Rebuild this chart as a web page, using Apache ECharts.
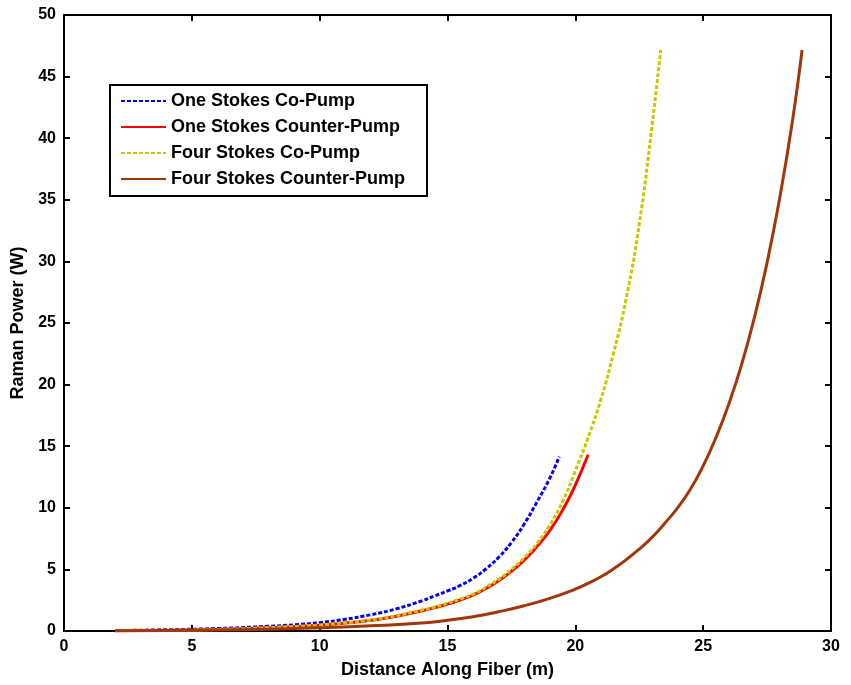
<!DOCTYPE html>
<html>
<head>
<meta charset="utf-8">
<script src="https://cdn.jsdelivr.net/npm/echarts@6/dist/echarts.min.js"></script>
<style>html,body{margin:0;padding:0;background:#fff}#c{width:851px;height:685px}</style>
</head>
<body>
<div id="c"></div>
<script>
var seriesNames = ['One Stokes Co-Pump', 'One Stokes Counter-Pump', 'Four Stokes Co-Pump', 'Four Stokes Counter-Pump'];

var oneCoX = [2, 4, 6, 8, 9, 10, 11, 12, 13, 14, 14.5, 15, 15.5, 16, 16.5, 17, 17.5, 18, 18.5, 19, 19.37];
var oneCoY = [0.03, 0.1, 0.2, 0.38, 0.5, 0.68, 0.95, 1.32, 1.8, 2.45, 2.85, 3.25, 3.7, 4.28, 5.03, 5.98, 7.18, 8.68, 10.48, 12.4, 14.15];

var oneCtX = [2, 4, 6, 8, 10, 11, 12, 13, 14, 14.5, 15, 15.5, 16, 16.5, 17, 17.5, 18, 18.5, 19, 19.5, 20, 20.5];
var oneCtY = [0.02, 0.05, 0.12, 0.26, 0.47, 0.64, 0.87, 1.2, 1.65, 1.9, 2.18, 2.52, 2.92, 3.45, 4.08, 4.85, 5.75, 6.85, 8.15, 9.8, 11.85, 14.3];

var fourCoX = [2, 4, 6, 8, 10, 11, 12, 13, 14, 14.5, 15, 15.5, 16, 16.5, 17, 17.5, 18, 18.5, 19, 19.5, 20, 20.5, 21, 21.5, 22, 22.5, 23, 23.34];
var fourCoY = [0.02, 0.05, 0.12, 0.27, 0.49, 0.67, 0.9, 1.24, 1.7, 1.95, 2.25, 2.6, 3.0, 3.55, 4.2, 5.0, 5.95, 7.1, 8.6, 10.5, 13.0, 15.7, 18.8, 22.6, 27.1, 33.0, 41.0, 47.16];

var fourCtX = [2, 4, 6, 8, 10, 12, 14, 15, 16, 17, 18, 19, 20, 20.5, 21, 21.5, 22, 22.5, 23, 23.5, 24, 24.5, 25, 25.5, 26, 26.5, 27, 27.5, 28, 28.5, 28.87];
var fourCtY = [0.015, 0.04, 0.08, 0.15, 0.26, 0.42, 0.65, 0.87, 1.16, 1.56, 2.05, 2.65, 3.4, 3.87, 4.4, 5.05, 5.8, 6.65, 7.6, 8.75, 10.0, 11.5, 13.4, 15.7, 18.4, 21.6, 25.4, 29.9, 35.2, 41.5, 47.16];

var xTicks = [0, 5, 10, 15, 20, 25, 30];
var yTicks = [0, 5, 10, 15, 20, 25, 30, 35, 40, 45, 50];

function pairs(xs, ys) { return xs.map(function (x, i) { return [x, ys[i]]; }); }

var FONT = 'Liberation Sans';
var chart = echarts.init(document.getElementById('c'));

function axisBase(show) {
  return {
    axisLine: { show: true, onZero: false, lineStyle: { color: '#000', width: 2 } },
    axisTick: { show: true, inside: true, length: 6, lineStyle: { color: '#000', width: 2 } },
    splitLine: { show: false },
    axisLabel: { show: show, color: '#000', fontFamily: FONT, fontWeight: 'bold', fontSize: 16 }
  };
}

var xMain = Object.assign(axisBase(true), {
  type: 'value', min: xTicks[0], max: xTicks[xTicks.length - 1], interval: 5, position: 'bottom',
  name: 'Distance Along Fiber (m)', nameLocation: 'middle', nameGap: 30,
  nameTextStyle: { color: '#000', fontFamily: FONT, fontWeight: 'bold', fontSize: 18 }
});
xMain.axisLabel.margin = 8;
var xTop = Object.assign(axisBase(false), {
  type: 'value', min: xTicks[0], max: xTicks[xTicks.length - 1], interval: 5, position: 'top'
});
var yMain = Object.assign(axisBase(true), {
  type: 'value', min: yTicks[0], max: yTicks[yTicks.length - 1], interval: 5, position: 'left',
  name: 'Raman Power (W)', nameLocation: 'middle', nameGap: 34, nameRotate: 90,
  nameTextStyle: { color: '#000', fontFamily: FONT, fontWeight: 'bold', fontSize: 18 }
});
yMain.axisLabel.margin = 8;
var yRight = Object.assign(axisBase(false), {
  type: 'value', min: yTicks[0], max: yTicks[yTicks.length - 1], interval: 5, position: 'right'
});

function mk(name, data, color, type, width) {
  return {
    name: name, type: 'line', data: data, smooth: 0.5,
    symbol: 'none', showSymbol: false,
    xAxisIndex: 0, yAxisIndex: 0,
    lineStyle: { color: color, width: width, type: type },
    itemStyle: { color: color },
    animation: false
  };
}

chart.setOption({
  animation: false,
  backgroundColor: '#fff',
  grid: { left: 64, right: 20, top: 15, bottom: 54, containLabel: false },
  xAxis: [xMain, xTop],
  yAxis: [yMain, yRight],
  legend: {
    orient: 'vertical', left: 110, top: 85,
    data: seriesNames,
    itemWidth: 45, itemHeight: 14, itemGap: 8,
    padding: [7, 22, 8, 10],
    borderColor: '#000', borderWidth: 2, backgroundColor: '#fff',
    itemStyle: { opacity: 0 },
    textStyle: { color: '#000', fontFamily: FONT, fontWeight: 'bold', fontSize: 18, lineHeight: 18 }
  },
  series: [
    mk(seriesNames[0], pairs(oneCoX, oneCoY), '#0000ff', [4, 2], 3),
    mk(seriesNames[1], pairs(oneCtX, oneCtY), '#ff0000', 'solid', 3),
    mk(seriesNames[2], pairs(fourCoX, fourCoY), '#c8c800', [4, 2], 3),
    mk(seriesNames[3], pairs(fourCtX, fourCtY), '#a0360a', 'solid', 3)
  ]
});
</script>
</body>
</html>
